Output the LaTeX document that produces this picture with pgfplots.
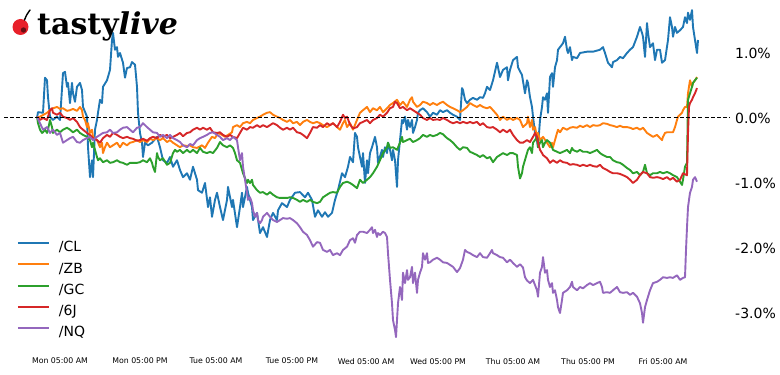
\documentclass[border=0pt]{standalone}
\usepackage{fontspec}
\setmainfont{DejaVu Sans}
\newfontfamily\logofont{DejaVu Serif}
\usepackage{pgfplots}
\pgfplotsset{compat=1.18}
\definecolor{tabblue}{HTML}{1F77B4}
\definecolor{taborange}{HTML}{FF7F0E}
\definecolor{tabgreen}{HTML}{2CA02C}
\definecolor{tabred}{HTML}{D62728}
\definecolor{tabpurple}{HTML}{9467BD}
\definecolor{cherry}{HTML}{E8202A}
\begin{document}
\begin{tikzpicture}
\path[use as bounding box] (0bp,0bp) rectangle (780bp,375bp);
\begin{axis}[
  at={(4bp,22bp)}, anchor=south west,
  scale only axis, width=726bp, height=353bp,
  xmin=4, xmax=730, ymin=-3.6154, ymax=1.8154,
  axis line style={draw=none},
  major tick length=0pt, tick style={draw=none},
  xtick={60,140,216,292,366,438,513,588,663},
  xticklabels={Mon 05:00 AM,Mon 05:00 PM,Tue 05:00 AM,Tue 05:00 PM,Wed 05:00 AM,Wed 05:00 PM,Thu 05:00 AM,Thu 05:00 PM,Fri 05:00 AM},
  xticklabel style={inner sep=0pt, anchor=north, yshift=-5bp, font=\fontsize{7.8bp}{9bp}\selectfont},
  yticklabel pos=right,
  ytick={-3,-2,-1,0,1},
  yticklabels={-3.0\%,-2.0\%,-1.0\%,0.0\%,1.0\%},
  yticklabel style={inner sep=0pt, anchor=west, xshift=5bp, font=\fontsize{14bp}{16bp}\selectfont},
  legend cell align=left,
  legend image code/.code={\draw[#1, line width=2bp] (0bp,5bp) -- (31bp,5bp);},
  legend style={draw=none, fill=none, at={(axis description cs:0.0179,0.316)}, anchor=north west,
    inner sep=0pt, outer sep=0pt, column sep=9bp, row sep=7.75bp,
    nodes={inner sep=0pt, text height=10.5bp, text depth=3bp},
    font=\fontsize{14bp}{16bp}\selectfont},
]
\addplot[tabblue, line width=1.9bp, line join=round] coordinates {(37,0) (38,0.09) (43,0.08) (45,0.62) (47,0.58) (48,0.32) (50,0.02) (53,-0.03) (57,0.02) (60,-0.03) (63,0.69) (65,0.71) (67,0.48) (68,0.54) (70,0.23) (72,0.54) (73,0.38) (75,0.25) (77,0.48) (80,0.54) (82,0.43) (83,0.17) (87,0.02) (88,-0.45) (90,-0.91) (92,-0.65) (93,-0.91) (95,-0.18) (97,-0.03) (98,0.08) (100,0.28) (102,0.23) (103,0.48) (107,0.58) (110,0.74) (112,1.2) (113,1.31) (115,1.05) (117,1.09) (118,0.94) (120,1.0) (123,0.85) (125,0.62) (127,0.77) (130,0.78) (132,0.86) (135,0.82) (137,0.48) (138,0.08) (140,-0.23) (142,-0.38) (143,-0.6) (145,-0.38) (148,-0.42) (152,-0.38) (157,-0.29) (160,-0.45) (163,-0.65) (167,-0.69) (170,-0.6) (173,-0.75) (177,-0.65) (180,-0.8) (183,-0.91) (187,-0.85) (190,-0.95) (193,-0.75) (197,-0.95) (198,-1.11) (202,-1.15) (205,-1.0) (208,-1.37) (210,-1.22) (212,-1.52) (215,-1.26) (217,-1.15) (220,-1.37) (223,-1.57) (227,-1.26) (228,-1.06) (232,-1.37) (233,-1.26) (237,-1.68) (240,-1.37) (242,-1.15) (243,-1.37) (247,-1.06) (248,-1.15) (252,-1.37) (253,-1.57) (257,-1.46) (260,-1.77) (263,-1.68) (267,-1.83) (270,-1.57) (273,-1.46) (277,-1.57) (278,-1.42) (282,-1.31) (287,-1.37) (290,-1.26) (295,-1.15) (300,-1.14) (305,-1.22) (308,-1.15) (312,-1.26) (315,-1.52) (318,-1.42) (322,-1.52) (325,-1.45) (328,-1.52) (332,-1.46) (335,-1.26) (338,-1.11) (342,-0.85) (345,-0.91) (348,-0.75) (350,-0.6) (353,-0.68) (355,-0.23) (357,-0.29) (358,-0.45) (360,-0.6) (362,-0.75) (363,-0.54) (365,-1.0) (367,-0.65) (368,-0.85) (370,-0.54) (372,-0.45) (375,-0.29) (377,-0.45) (378,-0.69) (382,-0.49) (383,-0.6) (385,-0.45) (387,-0.54) (388,-0.38) (390,-0.49) (392,-0.65) (393,-0.49) (395,-0.65) (397,-1.06) (398,-0.65) (400,-0.34) (402,-0.03) (403,-0.08) (405,0.02) (407,-0.18) (408,-0.03) (410,-0.14) (412,-0.03) (413,-0.23) (415,-0.14) (417,-0.03) (418,0.08) (420,0.12) (423,0.15) (427,0.09) (430,0.02) (433,0.08) (437,0.05) (440,0.12) (443,0.09) (447,0.12) (450,0.08) (453,0.05) (457,0.02) (460,-0.03) (462,0.46) (463,0.43) (465,0.28) (467,0.23) (470,0.28) (473,0.31) (477,0.28) (480,0.32) (483,0.31) (485,0.38) (487,0.48) (490,0.43) (493,0.58) (497,0.85) (498,0.78) (500,0.63) (503,0.74) (507,0.78) (508,0.58) (510,0.74) (513,0.89) (517,0.94) (518,0.78) (520,0.72) (522,0.66) (525,0.38) (527,0.58) (528,0.54) (530,0.32) (532,0.17) (533,0.02) (535,-0.23) (537,-0.34) (538,-0.45) (540,-0.03) (542,0.17) (543,0.32) (545,0.28) (547,0.38) (548,0.08) (550,0.63) (552,0.69) (553,0.48) (555,0.78) (557,0.89) (558,1.05) (560,1.09) (563,1.15) (565,1.25) (567,1.05) (568,1.0) (570,1.09) (572,0.89) (573,0.94) (577,0.92) (580,1.0) (587,1.02) (593,1.02) (600,1.05) (603,1.09) (605,1.0) (608,0.85) (612,0.78) (613,0.86) (617,0.89) (620,0.94) (623,0.92) (627,1.0) (630,1.05) (633,1.09) (637,1.25) (640,1.4) (642,1.31) (643,1.25) (645,0.94) (647,1.46) (648,1.31) (650,1.09) (653,1.15) (655,0.89) (657,1.05) (660,1.05) (662,0.85) (665,0.89) (668,1.2) (670,1.55) (672,1.4) (673,1.25) (675,1.4) (677,1.31) (680,1.35) (683,1.4) (685,1.55) (687,1.46) (688,1.62) (690,1.51) (692,1.66) (693,1.4) (695,1.2) (697,1.0) (698,1.2)};
\addlegendentry{/CL}
\addplot[taborange, line width=1.9bp, line join=round] coordinates {(37,0) (40,0.02) (47,0.08) (50,0.12) (53,0.15) (57,0.17) (60,0.14) (63,0.15) (67,0.11) (70,0.12) (73,0.14) (77,0.11) (80,0.17) (82,0.12) (83,0.02) (85,-0.03) (87,-0.14) (88,-0.08) (90,-0.23) (92,-0.18) (93,-0.29) (97,-0.34) (100,-0.45) (102,-0.38) (103,-0.54) (105,-0.45) (107,-0.38) (110,-0.45) (113,-0.42) (117,-0.38) (120,-0.45) (123,-0.38) (127,-0.42) (130,-0.38) (133,-0.37) (137,-0.34) (140,-0.37) (143,-0.34) (147,-0.37) (150,-0.32) (153,-0.34) (157,-0.31) (160,-0.34) (163,-0.31) (167,-0.37) (170,-0.34) (173,-0.38) (177,-0.42) (180,-0.45) (183,-0.42) (187,-0.43) (190,-0.42) (193,-0.45) (197,-0.46) (202,-0.42) (205,-0.46) (208,-0.38) (212,-0.29) (215,-0.31) (218,-0.23) (222,-0.26) (225,-0.29) (228,-0.26) (232,-0.22) (233,-0.14) (237,-0.11) (240,-0.14) (243,-0.08) (247,-0.06) (250,-0.08) (253,-0.03) (257,0.0) (260,0.02) (263,0.05) (267,0.08) (270,0.09) (273,0.05) (277,0.02) (280,0) (283,-0.03) (287,-0.06) (290,-0.03) (293,-0.08) (297,-0.06) (300,-0.11) (303,-0.06) (307,-0.03) (310,-0.06) (313,-0.08) (317,-0.06) (320,-0.08) (323,-0.11) (327,-0.14) (330,-0.11) (333,-0.08) (337,-0.14) (340,-0.18) (343,-0.08) (345,-0.03) (347,-0.14) (350,-0.08) (353,-0.18) (357,-0.03) (360,0.08) (363,0.12) (367,0.17) (370,0.09) (373,0.15) (377,0.12) (380,0.17) (383,0.09) (387,0.15) (390,0.2) (393,0.23) (397,0.28) (400,0.2) (403,0.25) (407,0.17) (410,0.28) (412,0.32) (413,0.25) (417,0.17) (420,0.2) (423,0.25) (427,0.23) (430,0.2) (433,0.23) (437,0.2) (440,0.23) (443,0.25) (447,0.2) (450,0.17) (453,0.15) (457,0.12) (460,0.09) (463,0.12) (467,0.17) (470,0.23) (473,0.2) (477,0.17) (480,0.2) (483,0.17) (487,0.15) (490,0.17) (493,0.12) (497,0.05) (500,-0.03) (503,0.02) (507,-0.03) (510,0) (513,-0.03) (517,0) (520,-0.03) (523,-0.14) (527,-0.08) (528,0.02) (530,-0.14) (532,-0.03) (533,-0.18) (535,-0.14) (537,-0.29) (538,-0.23) (540,-0.34) (543,-0.29) (547,-0.38) (550,-0.45) (552,-0.38) (553,-0.45) (555,-0.34) (557,-0.23) (558,-0.18) (560,-0.22) (563,-0.15) (567,-0.18) (570,-0.15) (573,-0.14) (577,-0.15) (580,-0.12) (583,-0.14) (587,-0.11) (590,-0.14) (593,-0.11) (597,-0.12) (600,-0.11) (603,-0.08) (607,-0.09) (610,-0.11) (613,-0.12) (617,-0.14) (620,-0.12) (623,-0.14) (627,-0.14) (630,-0.15) (633,-0.17) (637,-0.15) (640,-0.18) (643,-0.15) (647,-0.23) (650,-0.26) (653,-0.29) (657,-0.26) (660,-0.31) (662,-0.34) (663,-0.29) (665,-0.23) (667,-0.22) (670,-0.22) (673,-0.22) (675,-0.14) (677,-0.03) (678,0.02) (680,0.05) (682,0.08) (683,0.12) (685,0.17) (687,0.17) (688,0.38) (690,0.58) (692,0.48) (693,0.54) (695,0.58) (697,0.63)};
\addlegendentry{/ZB}
\addplot[tabgreen, line width=1.9bp, line join=round] coordinates {(37,0.02) (38,-0.08) (40,-0.18) (42,-0.23) (43,-0.22) (45,-0.18) (47,-0.23) (48,-0.18) (50,-0.03) (52,-0.14) (53,-0.23) (57,-0.18) (60,-0.22) (63,-0.18) (67,-0.15) (70,-0.18) (73,-0.22) (77,-0.18) (80,-0.23) (83,-0.26) (87,-0.29) (90,-0.34) (92,-0.45) (93,-0.38) (95,-0.49) (97,-0.6) (98,-0.65) (100,-0.62) (103,-0.68) (107,-0.65) (110,-0.69) (113,-0.68) (117,-0.65) (120,-0.68) (123,-0.69) (127,-0.72) (130,-0.69) (133,-0.69) (137,-0.69) (140,-0.68) (143,-0.65) (147,-0.68) (150,-0.62) (152,-0.69) (153,-0.75) (155,-0.83) (157,-0.54) (158,-0.6) (160,-0.65) (163,-0.62) (167,-0.72) (170,-0.69) (173,-0.54) (175,-0.49) (177,-0.52) (180,-0.49) (183,-0.54) (187,-0.49) (190,-0.53) (193,-0.49) (197,-0.54) (200,-0.46) (203,-0.52) (207,-0.54) (210,-0.52) (213,-0.54) (217,-0.46) (220,-0.37) (223,-0.42) (227,-0.45) (230,-0.42) (233,-0.46) (235,-0.54) (237,-0.65) (240,-0.69) (243,-0.85) (247,-1.0) (248,-0.95) (250,-1.0) (252,-0.95) (253,-1.03) (257,-1.11) (260,-1.15) (263,-1.14) (267,-1.18) (270,-1.14) (273,-1.18) (277,-1.22) (280,-1.23) (283,-1.23) (287,-1.23) (290,-1.22) (293,-1.23) (297,-1.26) (300,-1.29) (303,-1.26) (307,-1.29) (310,-1.26) (313,-1.29) (317,-1.31) (320,-1.29) (323,-1.22) (327,-1.18) (330,-1.15) (333,-1.14) (337,-1.15) (340,-1.06) (343,-1.0) (347,-0.98) (350,-1.0) (353,-1.03) (357,-1.08) (360,-0.95) (363,-1.0) (367,-0.95) (370,-0.91) (373,-0.85) (377,-0.75) (380,-0.65) (383,-0.54) (387,-0.45) (388,-0.38) (390,-0.46) (393,-0.45) (397,-0.49) (400,-0.38) (402,-0.29) (403,-0.37) (407,-0.34) (410,-0.32) (413,-0.37) (417,-0.34) (420,-0.31) (423,-0.26) (427,-0.29) (430,-0.26) (433,-0.28) (437,-0.26) (440,-0.23) (443,-0.25) (447,-0.31) (450,-0.34) (453,-0.38) (457,-0.45) (460,-0.49) (463,-0.45) (467,-0.46) (470,-0.52) (473,-0.54) (477,-0.57) (480,-0.6) (483,-0.57) (487,-0.62) (490,-0.6) (493,-0.68) (497,-0.6) (500,-0.57) (503,-0.54) (507,-0.57) (510,-0.54) (513,-0.54) (517,-0.57) (518,-0.75) (520,-0.93) (522,-0.85) (523,-0.75) (527,-0.54) (528,-0.49) (530,-0.45) (532,-0.54) (533,-0.38) (535,-0.34) (537,-0.29) (538,-0.45) (540,-0.38) (542,-0.34) (543,-0.45) (545,-0.38) (547,-0.34) (550,-0.38) (552,-0.45) (553,-0.49) (557,-0.52) (560,-0.54) (563,-0.52) (567,-0.49) (570,-0.54) (572,-0.46) (573,-0.49) (577,-0.52) (580,-0.49) (583,-0.52) (587,-0.52) (590,-0.54) (593,-0.52) (597,-0.49) (600,-0.54) (603,-0.57) (607,-0.6) (610,-0.6) (613,-0.65) (617,-0.68) (620,-0.69) (623,-0.72) (627,-0.77) (630,-0.8) (633,-0.85) (637,-0.83) (640,-0.88) (643,-0.83) (645,-0.72) (647,-0.85) (650,-0.88) (653,-0.85) (657,-0.85) (660,-0.83) (663,-0.85) (667,-0.83) (670,-0.85) (673,-0.88) (677,-0.91) (680,-0.98) (682,-1.03) (683,-0.95) (685,-0.75) (687,-0.69) (688,0.28) (690,0.38) (692,0.48) (693,0.54) (695,0.58) (697,0.62)};
\addlegendentry{/GC}
\addplot[tabred, line width=1.9bp, line join=round] coordinates {(37,0.02) (40,-0.03) (43,0) (47,-0.03) (50,0.12) (52,0.15) (53,0.08) (57,0.05) (60,0.08) (63,0.02) (67,0) (70,-0.03) (73,0) (77,-0.06) (80,-0.14) (83,-0.18) (87,-0.23) (90,-0.26) (93,-0.31) (97,-0.34) (100,-0.38) (103,-0.31) (107,-0.26) (110,-0.29) (113,-0.23) (117,-0.26) (120,-0.29) (123,-0.31) (127,-0.29) (130,-0.31) (133,-0.32) (137,-0.35) (140,-0.34) (143,-0.32) (147,-0.35) (150,-0.31) (153,-0.29) (157,-0.31) (160,-0.26) (163,-0.29) (167,-0.26) (170,-0.31) (173,-0.29) (177,-0.26) (180,-0.23) (183,-0.28) (187,-0.23) (190,-0.22) (193,-0.18) (197,-0.15) (200,-0.18) (203,-0.15) (207,-0.18) (210,-0.15) (213,-0.22) (217,-0.23) (220,-0.22) (223,-0.26) (227,-0.29) (230,-0.26) (233,-0.29) (237,-0.31) (240,-0.23) (243,-0.15) (247,-0.18) (250,-0.14) (253,-0.15) (257,-0.11) (260,-0.14) (263,-0.11) (267,-0.14) (270,-0.11) (273,-0.08) (277,-0.11) (280,-0.15) (283,-0.18) (287,-0.15) (290,-0.18) (293,-0.15) (297,-0.22) (300,-0.23) (303,-0.26) (307,-0.31) (310,-0.23) (313,-0.14) (317,-0.15) (320,-0.11) (323,-0.14) (327,-0.08) (330,-0.11) (333,-0.08) (337,-0.14) (340,-0.06) (343,0.05) (345,0) (347,0.02) (350,-0.1) (353,-0.16) (357,-0.14) (360,-0.08) (363,-0.06) (367,-0.03) (370,-0.08) (373,-0.03) (377,0) (380,0.05) (383,0.02) (387,0.08) (390,0.15) (393,0.17) (395,0.25) (397,0.23) (400,0.15) (403,0.17) (407,0.12) (410,0.15) (413,0.12) (417,0.08) (420,0.05) (423,0) (427,-0.03) (430,0) (433,-0.03) (437,-0.02) (440,-0.03) (443,0) (447,-0.03) (450,-0.06) (453,-0.08) (457,-0.06) (460,-0.08) (463,-0.06) (467,-0.08) (470,-0.06) (473,-0.08) (477,-0.06) (480,-0.11) (483,-0.08) (487,-0.14) (490,-0.15) (493,-0.14) (497,-0.18) (500,-0.22) (503,-0.18) (507,-0.22) (510,-0.18) (513,-0.26) (517,-0.34) (520,-0.38) (523,-0.38) (527,-0.34) (530,-0.37) (533,-0.29) (535,-0.23) (537,-0.29) (538,-0.38) (540,-0.49) (542,-0.54) (543,-0.57) (547,-0.62) (550,-0.69) (553,-0.65) (557,-0.69) (560,-0.65) (563,-0.68) (567,-0.69) (570,-0.72) (573,-0.71) (577,-0.72) (580,-0.74) (583,-0.72) (587,-0.74) (590,-0.72) (593,-0.74) (597,-0.75) (600,-0.72) (603,-0.77) (607,-0.8) (610,-0.83) (613,-0.85) (617,-0.85) (620,-0.86) (623,-0.88) (627,-0.91) (630,-0.95) (633,-1.0) (637,-0.95) (640,-0.88) (643,-0.83) (647,-0.85) (650,-0.91) (653,-0.92) (657,-0.91) (660,-0.92) (663,-0.94) (667,-0.91) (670,-0.95) (673,-0.92) (677,-0.98) (680,-0.95) (683,-0.85) (687,-0.88) (688,-0.23) (689,0.17) (690,0.23) (692,0.28) (693,0.32) (695,0.38) (697,0.46)};
\addlegendentry{/6J}
\addplot[tabpurple, line width=1.9bp, line join=round] coordinates {(37,0.02) (40,-0.08) (43,-0.18) (47,-0.14) (50,-0.23) (53,-0.18) (57,-0.26) (60,-0.23) (63,-0.38) (67,-0.34) (70,-0.31) (73,-0.29) (77,-0.37) (80,-0.38) (83,-0.34) (87,-0.31) (90,-0.29) (93,-0.34) (97,-0.29) (100,-0.26) (103,-0.23) (107,-0.22) (110,-0.18) (113,-0.23) (117,-0.22) (120,-0.18) (123,-0.15) (127,-0.14) (130,-0.18) (133,-0.22) (137,-0.15) (140,-0.14) (143,-0.08) (147,-0.14) (150,-0.18) (153,-0.22) (157,-0.23) (160,-0.29) (163,-0.26) (167,-0.31) (170,-0.26) (173,-0.31) (177,-0.34) (180,-0.37) (183,-0.42) (187,-0.45) (190,-0.4) (193,-0.42) (197,-0.34) (200,-0.31) (203,-0.29) (207,-0.26) (210,-0.23) (213,-0.22) (217,-0.26) (220,-0.29) (223,-0.34) (227,-0.31) (230,-0.34) (233,-0.29) (237,-0.34) (238,-0.45) (240,-0.65) (242,-0.54) (243,-0.75) (245,-0.95) (247,-1.15) (248,-1.26) (250,-1.22) (252,-1.31) (253,-1.42) (255,-1.52) (257,-1.46) (258,-1.57) (260,-1.62) (262,-1.57) (263,-1.52) (267,-1.46) (270,-1.52) (273,-1.57) (277,-1.6) (280,-1.57) (283,-1.54) (287,-1.55) (290,-1.54) (293,-1.57) (297,-1.62) (300,-1.68) (303,-1.75) (307,-1.8) (310,-1.88) (313,-1.98) (317,-1.91) (320,-1.92) (323,-2.03) (327,-2.06) (330,-2.03) (333,-2.11) (337,-2.08) (340,-2.11) (343,-2.03) (347,-1.98) (350,-1.88) (353,-1.85) (355,-1.92) (357,-1.8) (360,-1.75) (363,-1.75) (367,-1.77) (370,-1.72) (372,-1.68) (373,-1.77) (375,-1.72) (377,-1.83) (378,-1.77) (380,-1.8) (383,-1.75) (385,-1.77) (387,-1.83) (388,-2.08) (390,-2.49) (392,-2.85) (393,-3.11) (395,-3.26) (396,-3.37) (397,-3.11) (398,-2.85) (400,-2.6) (402,-2.8) (403,-2.38) (405,-2.54) (407,-2.34) (408,-2.49) (410,-2.45) (412,-2.29) (413,-2.54) (415,-2.38) (417,-2.69) (418,-2.49) (420,-2.38) (422,-2.29) (423,-2.08) (425,-2.18) (427,-2.08) (428,-2.23) (430,-2.22) (433,-2.18) (437,-2.15) (440,-2.18) (443,-2.22) (447,-2.23) (450,-2.26) (453,-2.29) (457,-2.37) (460,-2.31) (463,-2.18) (465,-2.03) (467,-2.06) (470,-2.08) (473,-2.11) (477,-2.14) (480,-2.08) (483,-2.14) (487,-2.15) (490,-2.08) (492,-2.03) (493,-2.08) (497,-2.11) (500,-2.14) (503,-2.15) (507,-2.22) (510,-2.18) (513,-2.23) (517,-2.29) (520,-2.25) (523,-2.3) (525,-2.45) (527,-2.5) (530,-2.54) (533,-2.49) (537,-2.65) (538,-2.75) (540,-2.38) (542,-2.29) (543,-2.14) (545,-2.38) (547,-2.34) (548,-2.49) (550,-2.6) (552,-2.54) (553,-2.69) (555,-2.65) (557,-2.8) (558,-2.91) (560,-3.0) (562,-2.8) (563,-2.69) (567,-2.65) (570,-2.6) (572,-2.52) (573,-2.6) (577,-2.65) (580,-2.6) (583,-2.62) (587,-2.57) (590,-2.54) (593,-2.57) (597,-2.54) (600,-2.52) (602,-2.6) (603,-2.69) (607,-2.68) (610,-2.69) (613,-2.65) (617,-2.6) (620,-2.68) (623,-2.69) (627,-2.68) (630,-2.72) (633,-2.69) (637,-2.75) (640,-2.85) (642,-3.0) (643,-3.15) (645,-2.91) (647,-2.8) (650,-2.65) (653,-2.54) (657,-2.52) (660,-2.49) (663,-2.45) (667,-2.46) (670,-2.45) (673,-2.46) (677,-2.42) (680,-2.49) (683,-2.46) (685,-2.45) (686,-2.03) (687,-1.68) (688,-1.37) (690,-1.15) (692,-1.06) (693,-0.95) (695,-0.91) (697,-0.98)};
\addlegendentry{/NQ}
\addplot[black, line width=1bp, dash pattern=on 4bp off 2.2bp, forget plot] coordinates {(4,0) (730,0)};
\end{axis}
% logo
\fill[cherry] (20.5bp,348bp) circle[radius=8bp];
\fill[black!55!cherry] (23.5bp,345bp) circle[radius=2.7bp];
\draw[black, line width=1.4bp, line cap=round] (24.5bp,355bp) .. controls (26bp,359bp) and (27.5bp,362bp) .. (30bp,365bp);
\node[anchor=base west, inner sep=0pt] at (37bp,340bp) {\logofont\fontsize{30bp}{33bp}\selectfont\bfseries tasty\itshape live};
\end{tikzpicture}
\end{document}
